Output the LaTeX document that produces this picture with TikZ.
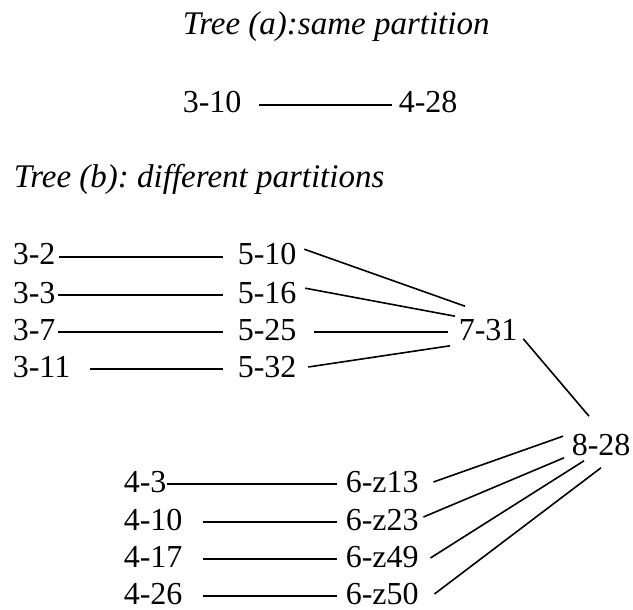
\documentclass[tikz,border=0pt]{standalone}
\usepackage{fontspec}
\setmainfont{Liberation Serif}
\usepackage{tikz}
\frenchspacing
\tikzset{every picture/.style={line width=1.6pt}}
\tikzset{lbl/.style={anchor=base west,inner sep=0pt,text height=16pt,text depth=0pt,font=\fontsize{32}{38}\selectfont},
  ttl/.style={anchor=base west,inner sep=0pt,font=\fontsize{33}{40}\selectfont\itshape}}

\begin{document}
\begin{tikzpicture}[x=1pt,y=1pt,yscale=-1,xscale=1]
    \useasboundingbox (0,0) rectangle (633,610);
    % tree (a)
    \node [ttl] (tta) at (182,35) {Tree (a):same partition};
    \node [lbl] (n310) at (182,113) {3-10};
    \node [lbl] (n428) at (398,113) {4-28};
    \draw [shorten <=17pt,shorten >=6pt] (n310) -- (n428) ;
    % tree (b)
    \node [ttl] (ttb) at (13,188) {Tree (b): different partitions};
    \node [lbl] (n32) at (12,265) {3-2};
    \node [lbl] (n33) at (12,303) {3-3};
    \node [lbl] (n37) at (12,340) {3-7};
    \node [lbl] (n311) at (12,377) {3-11};
    \node [lbl] (n510) at (237,265) {5-10};
    \node [lbl] (n516) at (237,303) {5-16};
    \node [lbl] (n525) at (237,340) {5-25};
    \node [lbl] (n532) at (237,377) {5-32};
    \node [lbl] (n731) at (458,340) {7-31};
    \node [lbl] (n828) at (571,455) {8-28};
    \node [lbl] (n43) at (123,492) {4-3};
    \node [lbl] (n410) at (123,530) {4-10};
    \node [lbl] (n417) at (123,567) {4-17};
    \node [lbl] (n426) at (123,604) {4-26};
    \node [lbl] (n6z13) at (345,492) {6-z13};
    \node [lbl] (n6z23) at (345,530) {6-z23};
    \node [lbl] (n6z49) at (345,567) {6-z49};
    \node [lbl] (n6z50) at (345,604) {6-z50};
    \draw [shorten <=3pt,shorten >=14pt] (n32) -- (n510) ;
    \draw [shorten <=2pt,shorten >=14pt] (n33) -- (n516) ;
    \draw [shorten <=2pt,shorten >=14pt] (n37) -- (n525) ;
    \draw [shorten <=19pt,shorten >=14pt] (n311) -- (n532) ;
    \draw ([shift={(7,1)}]n510.north east) -- ([shift={(7,-17)}]n731.north west) ;
    \draw ([shift={(8,2)}]n516.north east) -- ([shift={(-3,-7)}]n731.north west) ;
    \draw [shorten <=17pt,shorten >=10pt] (n525) -- (n731) ;
    \draw ([shift={(11,-2)}]n532.east) -- ([shift={(-8,5)}]n731.south west) ;
    \draw ([shift={(5,-2)}]n731.south east) -- ([shift={(18,-22)}]n828.north west) ;
    \draw [shorten >=8pt] (n43) -- (n6z13) ;
    \draw [shorten <=20pt,shorten >=8pt] (n410) -- (n6z23) ;
    \draw [shorten <=20pt,shorten >=8pt] (n417) -- (n6z49) ;
    \draw [shorten <=20pt,shorten >=8pt] (n426) -- (n6z50) ;
    \draw ([shift={(14,-2)}]n6z13.east) -- ([shift={(-8,-2)}]n828.north west) ;
    \draw ([shift={(4,-5)}]n6z23.east) -- ([shift={(-7,2)}]n828.south west) ;
    \draw ([shift={(11,-1)}]n6z49.east) -- ([shift={(13,5)}]n828.south west) ;
    \draw ([shift={(15,-2)}]n6z50.east) -- ([shift={(30,12)}]n828.south west) ;
\end{tikzpicture}
\end{document}
